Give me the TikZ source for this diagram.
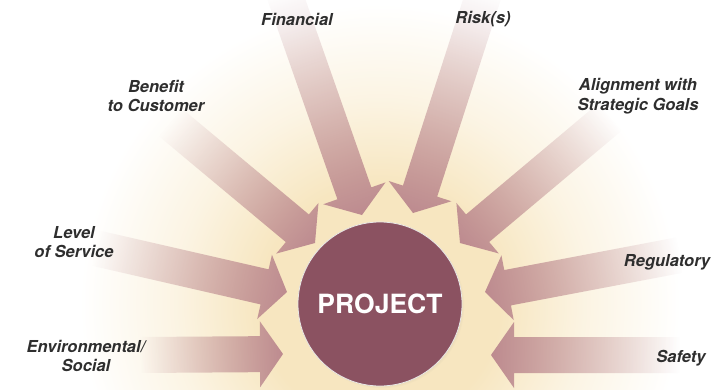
\documentclass[tikz,border=0pt]{standalone}
\usepackage{fontspec}
\setsansfont{TeX Gyre Heros}
\usetikzlibrary{calc,shadows,fadings}

\definecolor{glowcream}{RGB}{247,230,192}
\definecolor{projfill}{RGB}{139,82,97}
\definecolor{arrdark}{RGB}{186,134,141}

\pgfdeclareradialshading{sunglow}{\pgfpoint{0bp}{0bp}}{%
  color(0bp)=(glowcream); color(10bp)=(glowcream); color(17bp)=(glowcream!45!white);
  color(25bp)=(white); color(50bp)=(white)}

\tikzfading[name=arrfade, left color=transparent!100, middle color=transparent!50,
  right color=transparent!5]

\tikzset{
  lbl/.style={font=\sffamily\bfseries\itshape\fontsize{16.5}{19.5}\selectfont,
    text=black!82, align=center, inner sep=0pt},
  projnode/.style={circle, minimum size=164pt, fill=projfill, draw=white!82!gray,
    line width=0.8pt, text=white, font=\sffamily\bfseries\fontsize{26.5}{30}\selectfont,
    circular drop shadow={shadow xshift=1.5pt, shadow yshift=-1.5pt, opacity=.3, shadow scale=1.01}}
}

% big fading arrow from tail #1 to tip #2
\newcommand\bigarrow[2]{%
  \path let \p1=($(#2)-(#1)$) in \pgfextra{%
    \pgfmathsetmacro\arrlen{veclen(\x1,\y1)}%
    \pgfmathsetmacro\arrang{atan2(\y1,\x1)}%
    \xdef\arrlen{\arrlen}\xdef\arrang{\arrang}};
  \coordinate (#1-hb) at ($(#2)!23pt!(#1)$);
  \coordinate (#1-mid) at ($(#1)!0.5!(#2)$);
  \begin{scope}
    \clip ($(#1)!18pt!90:(#2)$) -- ($(#1-hb)!18pt!90:(#2)$) -- ($(#1-hb)!33pt!90:(#2)$) -- (#2)
      -- ($(#1-hb)!33pt!-90:(#2)$) -- ($(#1-hb)!18pt!-90:(#2)$) -- ($(#1)!18pt!-90:(#2)$) -- cycle;
    \fill[arrdark, path fading=arrfade, fading angle=\arrang]
      ($(#1-mid)+(-0.5*\arrlen,-0.5*\arrlen)$) rectangle ($(#1-mid)+(0.5*\arrlen,0.5*\arrlen)$);
  \end{scope}
}

\begin{document}
\begin{tikzpicture}[x=1pt, y=-1pt]
  \useasboundingbox (0,0) rectangle (724,389);
  \fill[white] (0,0) rectangle (724,389);
  \shade[shading=sunglow] (380,304) circle[radius=300pt];

  % where the arrows start and end
  \coordinate (fin-tail) at (283,-10);   \coordinate (fin-tip) at (362,215);
  \coordinate (risk-tail) at (485,-10);  \coordinate (risk-tip) at (413,213);
  \coordinate (ben-tail) at (170,122);   \coordinate (ben-tip) at (315,243);
  \coordinate (align-tail) at (610,117); \coordinate (align-tip) at (460,243);
  \coordinate (lev-tail) at (95,248);    \coordinate (lev-tip) at (287,292);
  \coordinate (reg-tail) at (680,255);   \coordinate (reg-tip) at (485,292);
  \coordinate (env-tail) at (140,355);   \coordinate (env-tip) at (283,354);
  \coordinate (safe-tail) at (680,355);  \coordinate (safe-tip) at (491,355);

  \bigarrow{fin-tail}{fin-tip}
  \bigarrow{risk-tail}{risk-tip}
  \bigarrow{ben-tail}{ben-tip}
  \bigarrow{align-tail}{align-tip}
  \bigarrow{lev-tail}{lev-tip}
  \bigarrow{reg-tail}{reg-tip}
  \bigarrow{env-tail}{env-tip}
  \bigarrow{safe-tail}{safe-tip}

  \node[projnode] (project) at (380,304) {PROJECT};

  \node[lbl] (fin) at (297,19) {Financial};
  \node[lbl] (risk) at (483,19) {Risk(s)};
  \node[lbl] (benefit) at (156,96) {Benefit\\to Customer};
  \node[lbl] (align) at (638,96) {Alignment with\\Strategic Goals};
  \node[lbl] (level) at (74,242) {Level\\of Service};
  \node[lbl] (reg) at (667,262) {Regulatory};
  \node[lbl] (env) at (86,356) {Environmental/\\Social};
  \node[lbl] (safety) at (681,358) {Safety};
\end{tikzpicture}
\end{document}
